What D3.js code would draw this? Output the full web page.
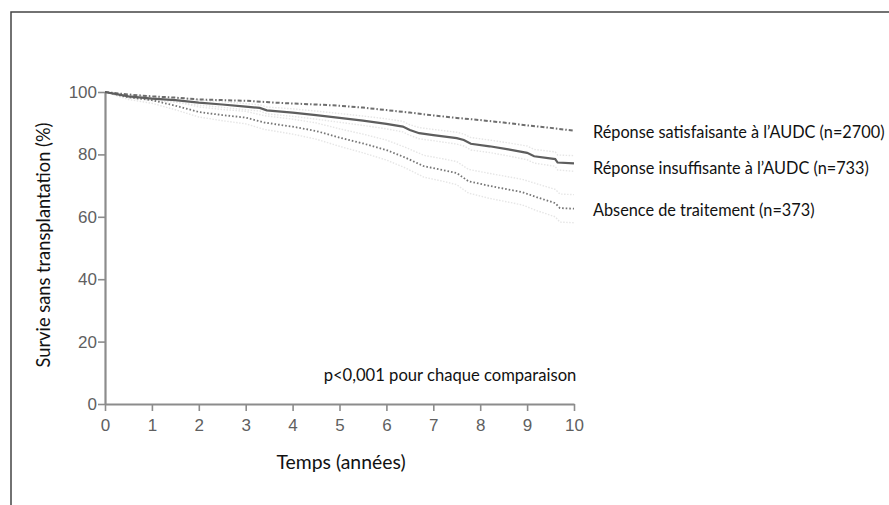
<!DOCTYPE html>
<html>
<head>
<meta charset="utf-8">
<script src="https://cdn.jsdelivr.net/npm/d3@7"></script>
<style>
  body { margin: 0; background: #fff; }
  svg { display: block; }
</style>
</head>
<body>
<div id="chart"></div>
<script>
const yTicks = [0, 20, 40, 60, 80, 100]
const xTicks = [0, 1, 2, 3, 4, 5, 6, 7, 8, 9, 10]

// Réponse satisfaisante (top, dash-dot)
const satTimes = [0, 0.5, 1, 1.5, 2, 2.5, 3, 3.5, 4, 4.5, 5, 5.5, 6, 6.5, 7, 7.5, 8, 8.5, 9, 9.5, 10]
const satValues = [100, 99.2, 98.6, 98.2, 97.6, 97.4, 97.2, 96.7, 96.3, 96.0, 95.6, 95.0, 94.2, 93.4, 92.5, 91.7, 91.0, 90.2, 89.3, 88.5, 87.6]

// Réponse insuffisante (middle, solid) + faint CI
const insTimes = [0, 0.5, 1, 1.5, 2, 2.5, 3, 3.3, 3.45, 4, 4.5, 5, 5.5, 6, 6.35, 6.5, 6.7, 7, 7.5, 7.65, 7.8, 8.2, 8.6, 9, 9.15, 9.6, 9.65, 10]
const insValues = [100, 98.6, 97.9, 97.4, 96.6, 96.0, 95.3, 94.9, 94.1, 93.4, 92.6, 91.7, 90.8, 89.8, 88.9, 87.8, 86.8, 86.2, 85.2, 84.6, 83.4, 82.6, 81.6, 80.5, 79.4, 78.5, 77.4, 77.1]
const insUpper = [100, 99.1, 98.5, 98.1, 97.4, 96.9, 96.3, 95.9, 95.2, 94.6, 93.9, 93.1, 92.3, 91.4, 90.6, 89.5, 88.6, 88.0, 87.1, 86.5, 85.4, 84.6, 83.7, 82.7, 81.6, 80.8, 79.8, 79.6]
const insLower = [100, 98.1, 97.3, 96.7, 95.8, 95.1, 94.3, 93.9, 93.0, 92.2, 91.3, 90.3, 89.3, 88.2, 87.2, 86.1, 85.0, 84.4, 83.3, 82.7, 81.4, 80.6, 79.5, 78.3, 77.2, 76.2, 75.0, 74.6]

// Absence de traitement (bottom, dotted) + faint CI
const noTimes = [0, 0.5, 1, 1.5, 2, 2.5, 3, 3.4, 4, 4.5, 5, 5.5, 6, 6.4, 6.8, 7.2, 7.5, 7.75, 8.2, 8.9, 9.2, 9.6, 9.7, 10]
const noValues = [100, 98.3, 97.4, 95.6, 93.6, 92.6, 91.8, 90.2, 88.9, 87.5, 85.4, 83.5, 81.4, 79.0, 76.2, 75.0, 74.0, 71.4, 69.9, 67.9, 66.3, 64.4, 62.8, 62.6]
const noUpper = [100, 99.0, 98.4, 96.9, 95.2, 94.4, 93.8, 92.4, 91.3, 90.1, 88.2, 86.5, 84.6, 82.3, 79.7, 78.6, 77.7, 75.2, 73.9, 72.0, 70.6, 68.8, 67.3, 67.1]
const noLower = [100, 97.6, 96.4, 94.3, 92.0, 90.8, 89.8, 88.0, 86.5, 84.9, 82.6, 80.5, 78.2, 75.7, 72.7, 71.4, 70.3, 67.6, 65.9, 63.8, 62.0, 60.0, 58.3, 58.1]

const legendLabels = [
  'Réponse satisfaisante à l’AUDC (n=2700)',
  'Réponse insuffisante à l’AUDC (n=733)',
  'Absence de traitement (n=373)',
]

const width = 889
const height = 505
const plotLeft = 105
const plotRight = 574
const plotTop = 92
const plotBottom = 404

const svg = d3.select('#chart')
  .append('svg')
  .attr('width', width)
  .attr('height', height)

// frame (top and left edge only)
svg.append('path')
  .attr('d', `M11,${height} L11,12 L${width},12`)
  .attr('fill', 'none')
  .attr('stroke', '#444')
  .attr('stroke-width', 1.5)

const x = d3.scaleLinear().domain([0, 10]).range([plotLeft, plotRight])
const y = d3.scaleLinear().domain([0, 100]).range([plotBottom, plotTop])

const axisColor = '#8c8c8c'
const tickFont = '"Liberation Sans", Arial, sans-serif'

const xAxis = svg.append('g')
  .attr('transform', `translate(0,${plotBottom})`)
  .call(d3.axisBottom(x).tickValues(xTicks).tickSize(7).tickPadding(8).tickSizeOuter(0))

const yAxis = svg.append('g')
  .attr('transform', `translate(${plotLeft},0)`)
  .call(d3.axisLeft(y).tickValues(yTicks).tickSize(7).tickPadding(1).tickSizeOuter(0))

;[xAxis, yAxis].forEach((g) => {
  g.select('.domain').attr('stroke', axisColor).attr('stroke-width', 2.2)
  g.selectAll('.tick line').attr('stroke', axisColor).attr('stroke-width', 1.6)
  g.selectAll('.tick text')
    .attr('fill', '#5f5f5f')
    .style('font-family', tickFont)
    .style('font-size', '17px')
})

const line = d3.line()
  .x((d) => x(d[0]))
  .y((d) => y(d[1]))

const zip = (ts, vs) => ts.map((t, i) => [t, vs[i]])

const series = [
  { pts: zip(insTimes, insUpper), color: '#e6e6e6', w: 1.4, dash: '1.5,1.5' },
  { pts: zip(insTimes, insLower), color: '#e6e6e6', w: 1.4, dash: '1.5,1.5' },
  { pts: zip(noTimes, noUpper), color: '#e6e6e6', w: 1.4, dash: '1.5,1.5' },
  { pts: zip(noTimes, noLower), color: '#e6e6e6', w: 1.4, dash: '1.5,1.5' },
  { pts: zip(satTimes, satValues), color: '#6e6e6e', w: 2, dash: '4,2,1.5,2' },
  { pts: zip(noTimes, noValues), color: '#767676', w: 1.8, dash: '1.6,2' },
  { pts: zip(insTimes, insValues), color: '#5e5e5e', w: 2.2, dash: null },
]

svg.append('g')
  .selectAll('path')
  .data(series)
  .join('path')
  .attr('d', (d) => line(d.pts))
  .attr('fill', 'none')
  .attr('stroke', (d) => d.color)
  .attr('stroke-width', (d) => d.w)
  .attr('stroke-dasharray', (d) => d.dash)

const textFont = 'Lato, "Open Sans", sans-serif'

svg.append('g')
  .selectAll('text')
  .data(legendLabels)
  .join('text')
  .attr('x', 593)
  .attr('y', (d, i) => [138, 174, 216][i])
  .attr('fill', '#111')
  .style('font-family', textFont)
  .style('font-size', '16.3px')
  .text((d) => d)

svg.append('text')
  .attr('x', 450)
  .attr('y', 381)
  .attr('text-anchor', 'middle')
  .attr('fill', '#111')
  .style('font-family', textFont)
  .style('font-size', '16.6px')
  .text('p<0,001 pour chaque comparaison')

svg.append('text')
  .attr('x', 341)
  .attr('y', 469)
  .attr('text-anchor', 'middle')
  .attr('fill', '#111')
  .style('font-family', textFont)
  .style('font-size', '19.4px')
  .text('Temps (années)')

svg.append('text')
  .attr('transform', 'translate(50,245) rotate(-90)')
  .attr('text-anchor', 'middle')
  .attr('fill', '#111')
  .style('font-family', textFont)
  .style('font-size', '18.3px')
  .text('Survie sans transplantation (%)')
</script>
</body>
</html>
